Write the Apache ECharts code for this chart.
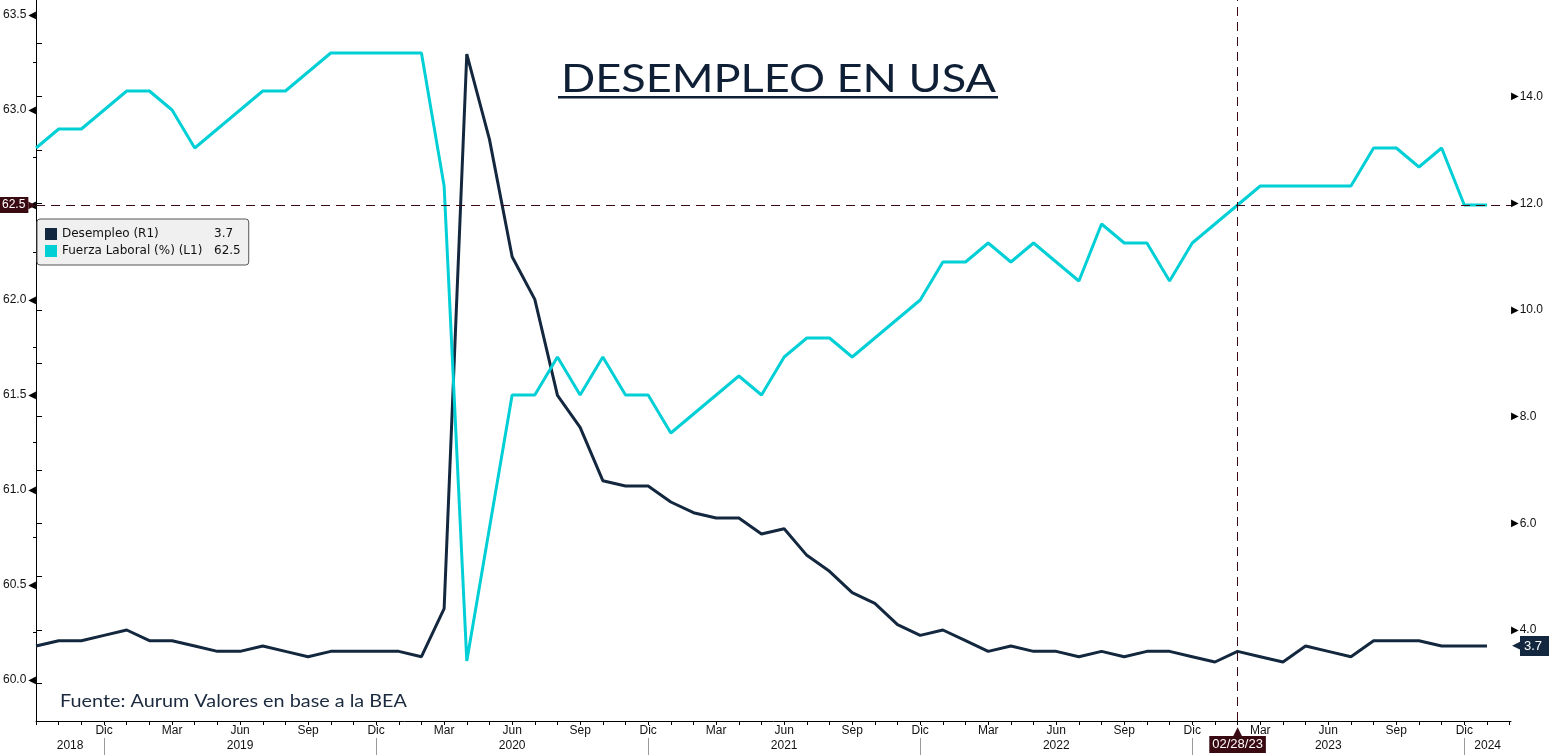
<!DOCTYPE html>
<html>
<head>
<meta charset="utf-8">
<title>Desempleo en USA</title>
<script src="https://cdn.jsdelivr.net/npm/echarts@6.0.0/dist/echarts.min.js"></script>
<style>
  html, body { margin: 0; padding: 0; background: #fff; }
  #chart { width: 1549px; height: 755px; }
</style>
</head>
<body>
<div id="chart"></div>
<script>
// datos mensuales (sep 2018 - ene 2024)
const months = [
  '2018-09', '2018-10', '2018-11', '2018-12',
  '2019-01', '2019-02', '2019-03', '2019-04', '2019-05', '2019-06', '2019-07', '2019-08', '2019-09', '2019-10', '2019-11', '2019-12',
  '2020-01', '2020-02', '2020-03', '2020-04', '2020-05', '2020-06', '2020-07', '2020-08', '2020-09', '2020-10', '2020-11', '2020-12',
  '2021-01', '2021-02', '2021-03', '2021-04', '2021-05', '2021-06', '2021-07', '2021-08', '2021-09', '2021-10', '2021-11', '2021-12',
  '2022-01', '2022-02', '2022-03', '2022-04', '2022-05', '2022-06', '2022-07', '2022-08', '2022-09', '2022-10', '2022-11', '2022-12',
  '2023-01', '2023-02', '2023-03', '2023-04', '2023-05', '2023-06', '2023-07', '2023-08', '2023-09', '2023-10', '2023-11', '2023-12',
  '2024-01'
];
const monthNames = ['Ene', 'Feb', 'Mar', 'Abr', 'May', 'Jun', 'Jul', 'Ago', 'Sep', 'Oct', 'Nov', 'Dic'];
const yearLabels = ['2018', '2019', '2020', '2021', '2022', '2023', '2024'];

const desempleo = [
  3.7, 3.8, 3.8, 3.9,
  4.0, 3.8, 3.8, 3.7, 3.6, 3.6, 3.7, 3.6, 3.5, 3.6, 3.6, 3.6,
  3.6, 3.5, 4.4, 14.8, 13.2, 11.0, 10.2, 8.4, 7.8, 6.8, 6.7, 6.7,
  6.4, 6.2, 6.1, 6.1, 5.8, 5.9, 5.4, 5.1, 4.7, 4.5, 4.1, 3.9,
  4.0, 3.8, 3.6, 3.7, 3.6, 3.6, 3.5, 3.6, 3.5, 3.6, 3.6, 3.5,
  3.4, 3.6, 3.5, 3.4, 3.7, 3.6, 3.5, 3.8, 3.8, 3.8, 3.7, 3.7,
  3.7
];
const fuerzaLaboral = [
  62.8, 62.9, 62.9, 63.0,
  63.1, 63.1, 63.0, 62.8, 62.9, 63.0, 63.1, 63.1, 63.2, 63.3, 63.3, 63.3,
  63.3, 63.3, 62.6, 60.1, 60.8, 61.5, 61.5, 61.7, 61.5, 61.7, 61.5, 61.5,
  61.3, 61.4, 61.5, 61.6, 61.5, 61.7, 61.8, 61.8, 61.7, 61.8, 61.9, 62.0,
  62.2, 62.2, 62.3, 62.2, 62.3, 62.2, 62.1, 62.4, 62.3, 62.3, 62.1, 62.3,
  62.4, 62.5, 62.6, 62.6, 62.6, 62.6, 62.6, 62.8, 62.8, 62.7, 62.8, 62.5,
  62.5
];

const leftTicks = [60.0, 60.5, 61.0, 61.5, 62.0, 62.5, 63.0, 63.5];
const rightTicks = [4, 6, 8, 10, 12, 14];
const seriesNames = ['Desempleo (R1)', 'Fuerza Laboral (%) (L1)'];
const cursorMonth = '2023-02';
const cursorLabel = '02/28/23';
const cursorLevel = 62.5;

const navy = '#13283f';
const cyan = '#00cfd6';
const maroon = '#3a0a12';
const axisFont = 'Liberation Sans';
const legendFont = 'DejaVu Sans';

const xMax = months.length + 0.06;
const monthOf = i => Number(months[i].slice(5));
const allIdx = months.map((m, i) => i);
const quarterIdx = allIdx.filter(i => i > 0 && monthOf(i) % 3 === 0);
const decIdx = allIdx.filter(i => monthOf(i) === 12);
const monthTicks = allIdx.concat([months.length]);
const yearCenters = yearLabels.map(y => {
  const a = Math.max(0, months.indexOf(y + '-01') - 1);
  const endIdx = months.indexOf(y + '-12');
  const b = endIdx < 0 ? xMax : endIdx;
  return (a + b) / 2;
});
const range = (from, to, step) => {
  const out = [];
  for (let v = from; v <= to + 1e-9; v += step) out.push(Math.round(v * 100) / 100);
  return out;
};

function textWidth (text, font) {
  const ctx = document.createElement('canvas').getContext('2d');
  ctx.font = font;
  return ctx.measureText(text).width;
}

const titleText = 'DESEMPLEO EN USA';
const sourceText = 'Fuente: Aurum Valores en base a la BEA';
const titleScale = 435 / textWidth(titleText, '39px Lato');
const sourceScale = 347 / textWidth(sourceText, '18px Lato');

const lastDes = desempleo[desempleo.length - 1];
const lastFuerza = fuerzaLaboral[fuerzaLaboral.length - 1];

const chart = echarts.init(document.getElementById('chart'));

const option = {
  backgroundColor: '#fff',
  animation: false,
  grid: { left: 36, right: 38, top: 0, bottom: 34 },
  legend: {
    left: 37,
    top: 219,
    orient: 'vertical',
    icon: 'rect',
    itemWidth: 12,
    itemHeight: 12,
    itemGap: 5,
    padding: [9, 8, 8, 8],
    backgroundColor: '#f0f0f0',
    borderColor: '#555',
    borderWidth: 1,
    borderRadius: 3,
    data: seriesNames,
    formatter: name => {
      const v = name === seriesNames[0] ? lastDes : lastFuerza;
      return '{n|' + name + '}{v|' + v.toFixed(1) + '}';
    },
    textStyle: {
      rich: {
        n: { width: 152, fontSize: 12, fontFamily: legendFont, color: '#111' },
        v: { fontSize: 12, fontFamily: legendFont, color: '#111' }
      }
    }
  },
  xAxis: [
    {
      type: 'value',
      min: 0,
      max: xMax,
      position: 'bottom',
      axisLine: { lineStyle: { color: '#000', width: 1 } },
      axisTick: { customValues: monthTicks, length: 4, lineStyle: { color: '#000' } },
      axisLabel: {
        customValues: quarterIdx,
        margin: 4,
        fontSize: 12,
        fontFamily: axisFont,
        color: '#111',
        formatter: v => monthNames[monthOf(v) - 1]
      },
      splitLine: { show: false }
    },
    {
      type: 'value',
      min: 0,
      max: xMax,
      position: 'bottom',
      offset: 17,
      axisLine: { show: false },
      axisTick: { customValues: decIdx, length: 17, lineStyle: { color: '#9a9a9a' } },
      axisLabel: {
        customValues: yearCenters,
        margin: 2,
        fontSize: 12,
        fontFamily: axisFont,
        color: '#111',
        formatter: v => yearLabels[yearCenters.indexOf(v)]
      },
      splitLine: { show: false }
    }
  ],
  yAxis: [
    {
      type: 'value',
      position: 'left',
      min: 59.784,
      max: 63.579,
      axisLine: { show: true, lineStyle: { color: '#000' } },
      axisTick: { show: true, customValues: range(60, 63.5, 0.25), length: 3, lineStyle: { color: '#000' } },
      axisLabel: {
        customValues: leftTicks,
        margin: 0,
        formatter: v => '{v|' + v.toFixed(1) + '}{t|◀}',
        rich: {
          v: { fontSize: 12, fontFamily: axisFont, color: '#111' },
          t: { fontSize: 10, fontFamily: legendFont, color: '#000', padding: [0, 0, 0, 2] }
        }
      },
      splitLine: { show: false }
    },
    {
      type: 'value',
      position: 'right',
      min: 2.294,
      max: 15.813,
      axisLine: { show: true, lineStyle: { color: '#000' } },
      axisTick: { show: true, customValues: range(3, 15, 1), length: 6, lineStyle: { color: '#000' } },
      axisLabel: {
        customValues: rightTicks,
        margin: 0,
        formatter: v => '{t|▶}{v|' + v.toFixed(1) + '}',
        rich: {
          v: { fontSize: 12, fontFamily: axisFont, color: '#111' },
          t: { fontSize: 10, fontFamily: legendFont, color: '#000', padding: [0, 1, 0, 0] }
        }
      },
      splitLine: { show: false }
    }
  ],
  series: [
    {
      name: seriesNames[0],
      type: 'line',
      yAxisIndex: 1,
      symbol: 'none',
      color: navy,
      lineStyle: { color: navy, width: 3 },
      data: desempleo.map((v, i) => [i, v]),
      markLine: {
        silent: true,
        symbol: ['none', 'none'],
        lineStyle: { color: 'rgba(0,0,0,0)', width: 0 },
        label: {
          show: true,
          position: 'end',
          distance: 1,
          formatter: '{a|◀}{b|' + lastDes.toFixed(1) + '}',
          rich: {
            a: { color: navy, fontSize: 13, fontFamily: legendFont, padding: [0, -2, 0, 0] },
            b: { backgroundColor: navy, color: '#fff', fontSize: 13, fontFamily: axisFont, padding: [4, 10, 3, 4] }
          }
        },
        data: [{ yAxis: lastDes }]
      }
    },
    {
      name: seriesNames[1],
      type: 'line',
      yAxisIndex: 0,
      symbol: 'none',
      color: cyan,
      lineStyle: { color: cyan, width: 3 },
      data: fuerzaLaboral.map((v, i) => [i, v]),
      markLine: {
        silent: true,
        symbol: ['none', 'none'],
        lineStyle: { color: maroon, width: 1, type: [9, 6] },
        data: [
          {
            yAxis: cursorLevel,
            label: {
              position: 'start',
              distance: 0,
              formatter: '{b|' + cursorLevel.toFixed(1) + '}{a|▶}',
              rich: {
                b: { backgroundColor: maroon, color: '#fff', fontSize: 12, fontFamily: axisFont, padding: [2, 3, 2, 3] },
                a: { color: maroon, fontSize: 10, fontFamily: legendFont }
              }
            }
          },
          {
            xAxis: months.indexOf(cursorMonth),
            label: {
              position: 'start',
              distance: 6,
              formatter: '{a|▲}\n{b|' + cursorLabel + '}',
              rich: {
                a: { color: maroon, fontSize: 12, lineHeight: 9, fontFamily: legendFont },
                b: { backgroundColor: maroon, color: '#fff', fontSize: 13, fontFamily: axisFont, padding: [2, 3, 2, 3] }
              }
            }
          }
        ]
      }
    }
  ],
  graphic: [
    {
      type: 'text',
      x: 561,
      y: 79,
      scaleX: titleScale,
      style: { text: titleText, fontSize: 39, fontFamily: 'Lato', fill: '#0f1f35', verticalAlign: 'middle' }
    },
    {
      type: 'rect',
      shape: { x: 558, y: 96, width: 440, height: 2.5 },
      style: { fill: '#0f1f35' }
    },
    {
      type: 'text',
      x: 60,
      y: 701,
      scaleX: sourceScale,
      style: { text: sourceText, fontSize: 18, fontFamily: 'Lato', fill: '#1b2a3e', verticalAlign: 'middle' }
    }
  ]
};

chart.setOption(option);
</script>
</body>
</html>
